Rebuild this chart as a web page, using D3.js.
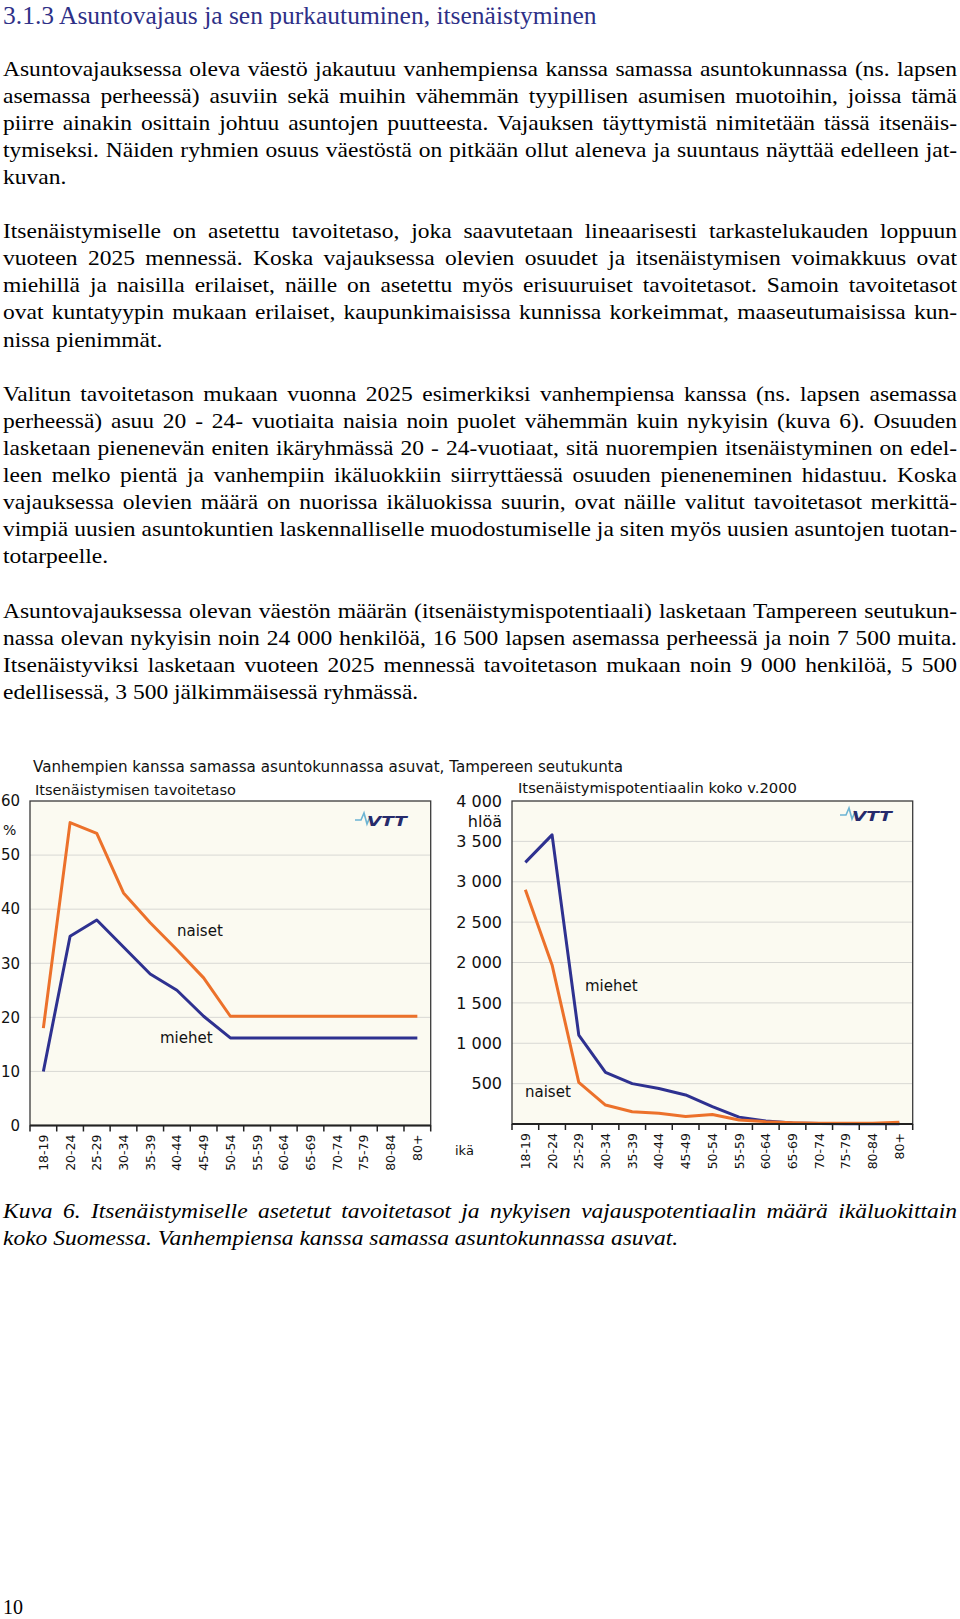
<!DOCTYPE html>
<html>
<head>
<meta charset="utf-8">
<script src="https://cdn.jsdelivr.net/npm/d3@7"></script>
<style>
  html, body { margin: 0; padding: 0; background: #fff; }
  svg { display: block; }
</style>
</head>
<body>
<script>
// ---------------- DATA ----------------
const ages = ["18-19","20-24","25-29","30-34","35-39","40-44","45-49","50-54","55-59","60-64","65-69","70-74","75-79","80-84","80+"];

// Left chart: itsenäistymisen tavoitetaso (%)
const targetWomen = [18, 56, 54, 43, 37.5, 32.5, 27.3, 20.2, 20.2, 20.2, 20.2, 20.2, 20.2, 20.2, 20.2];
const targetMen   = [10, 35, 38, 33, 28, 25, 20.2, 16.2, 16.2, 16.2, 16.2, 16.2, 16.2, 16.2, 16.2];
const leftTicks = [0, 10, 20, 30, 40, 50, 60];
const leftTickLabels = ["0", "10", "20", "30", "40", "50", "60"];

// Right chart: itsenäistymispotentiaalin koko v.2000 (hlöä)
const potentialMen   = [3240, 3580, 1100, 640, 500, 440, 360, 215, 85, 38, 12, 5, 4, 4, 4];
const potentialWomen = [2900, 1970, 515, 235, 152, 132, 92, 118, 50, 28, 15, 8, 8, 8, 22];
const rightTicks = [500, 1000, 1500, 2000, 2500, 3000, 3500, 4000];
const rightTickLabels = ["500", "1 000", "1 500", "2 000", "2 500", "3 000", "3 500", "4 000"];

// Texts
const heading = "3.1.3 Asuntovajaus ja sen purkautuminen, itsenäistyminen";
const paragraphs = [
  ["Asuntovajauksessa oleva väestö jakautuu vanhempiensa kanssa samassa asuntokunnassa (ns. lapsen",
   "asemassa perheessä) asuviin sekä muihin vähemmän tyypillisen asumisen muotoihin, joissa tämä",
   "piirre ainakin osittain johtuu asuntojen puutteesta. Vajauksen täyttymistä nimitetään tässä itsenäis-",
   "tymiseksi. Näiden ryhmien osuus väestöstä on pitkään ollut aleneva ja suuntaus näyttää edelleen jat-",
   "kuvan."],
  ["Itsenäistymiselle on asetettu tavoitetaso, joka saavutetaan lineaarisesti tarkastelukauden loppuun",
   "vuoteen 2025 mennessä. Koska vajauksessa olevien osuudet ja itsenäistymisen voimakkuus ovat",
   "miehillä ja naisilla erilaiset, näille on asetettu myös erisuuruiset tavoitetasot. Samoin tavoitetasot",
   "ovat kuntatyypin mukaan erilaiset, kaupunkimaisissa kunnissa korkeimmat, maaseutumaisissa kun-",
   "nissa pienimmät."],
  ["Valitun tavoitetason mukaan vuonna 2025 esimerkiksi vanhempiensa kanssa (ns. lapsen asemassa",
   "perheessä) asuu 20 - 24- vuotiaita naisia noin puolet vähemmän kuin nykyisin (kuva 6). Osuuden",
   "lasketaan pienenevän eniten ikäryhmässä 20 - 24-vuotiaat, sitä nuorempien itsenäistyminen on edel-",
   "leen melko pientä ja vanhempiin ikäluokkiin siirryttäessä osuuden pieneneminen hidastuu. Koska",
   "vajauksessa olevien määrä on nuorissa ikäluokissa suurin, ovat näille valitut tavoitetasot merkittä-",
   "vimpiä uusien asuntokuntien laskennalliselle muodostumiselle ja siten myös uusien asuntojen tuotan-",
   "totarpeelle."],
  ["Asuntovajauksessa olevan väestön määrän (itsenäistymispotentiaali) lasketaan Tampereen seutukun-",
   "nassa olevan nykyisin noin 24 000 henkilöä, 16 500 lapsen asemassa perheessä ja noin 7 500 muita.",
   "Itsenäistyviksi lasketaan vuoteen 2025 mennessä tavoitetason mukaan noin 9 000 henkilöä, 5 500",
   "edellisessä, 3 500 jälkimmäisessä ryhmässä."]
];
const captionLines = [
  "Kuva 6. Itsenäistymiselle asetetut tavoitetasot ja nykyisen vajauspotentiaalin määrä ikäluokittain",
  "koko Suomessa. Vanhempiensa kanssa samassa asuntokunnassa asuvat."
];
const chartTitle = "Vanhempien kanssa samassa asuntokunnassa asuvat, Tampereen seutukunta";
const leftSubtitle = "Itsenäistymisen tavoitetaso";
const rightSubtitle = "Itsenäistymispotentiaalin koko v.2000";
const pageNumber = "10";

// ---------------- LAYOUT ----------------
const W = 960, H = 1619;
const svg = d3.select("body").append("svg").attr("width", W).attr("height", H);

const SERIF = "'Liberation Serif','Times New Roman',serif";
const SANS = "'DejaVu Sans',Verdana,sans-serif";
const textLeft = 3, textRight = 957;
const bodyFs = 21;

// Heading
svg.append("text").attr("x", 3).attr("y", 23.5)
  .attr("font-family", SERIF).attr("font-size", 25.5).attr("fill", "#2e3087")
  .text(heading);

// measure helper
function measure(str, fs, style) {
  const t = svg.append("text").attr("font-family", SERIF).attr("font-size", fs)
    .attr("font-style", style || "normal").text(str);
  const w = t.node().getComputedTextLength();
  t.remove();
  return w;
}

// horizontal scale so the tightest justified line has normal spacing
let sx = 10;
paragraphs.forEach(p => p.slice(0, -1).forEach(l => {
  sx = Math.min(sx, (textRight - textLeft) / measure(l, bodyFs));
}));
sx = Math.max(0.9, Math.min(1.2, sx));

function drawLine(str, y, justify, style) {
  const t = svg.append("text")
    .attr("transform", `translate(${textLeft},${y}) scale(${sx},1)`)
    .attr("font-family", SERIF).attr("font-size", bodyFs)
    .attr("font-style", style || "normal").attr("fill", "#000")
    .text(str);
  if (justify) {
    const w = t.node().getComputedTextLength();
    const n = (str.match(/ /g) || []).length;
    if (n > 0) t.attr("word-spacing", ((textRight - textLeft) / sx - w) / n);
  }
}

const lineH = 27.1, firstBase = 75.5;
let li = 0;
paragraphs.forEach(p => {
  p.forEach((l, i) => {
    drawLine(l, firstBase + li * lineH, i < p.length - 1);
    li++;
  });
  li++;
});

// caption
drawLine(captionLines[0], 1218, true, "italic");
drawLine(captionLines[1], 1245, false, "italic");

// page number
svg.append("text").attr("x", 3).attr("y", 1614)
  .attr("font-family", SERIF).attr("font-size", 20).text(pageNumber);

// ---------------- CHARTS ----------------
const ORANGE = "#ec712b", NAVY = "#2e3190", CREAM = "#fbfaf1";

// chart title & subtitles
svg.append("text").attr("x", 33).attr("y", 772)
  .attr("font-family", SANS).attr("font-size", 15).attr("fill", "#111")
  .attr("textLength", 590).attr("lengthAdjust", "spacingAndGlyphs")
  .text(chartTitle);
svg.append("text").attr("x", 35).attr("y", 795)
  .attr("font-family", SANS).attr("font-size", 14.5).attr("fill", "#111")
  .attr("textLength", 201).attr("lengthAdjust", "spacingAndGlyphs")
  .text(leftSubtitle);
svg.append("text").attr("x", 518).attr("y", 793)
  .attr("font-family", SANS).attr("font-size", 14.5).attr("fill", "#111")
  .attr("textLength", 279).attr("lengthAdjust", "spacingAndGlyphs")
  .text(rightSubtitle);

function drawLogo(x, y) {
  const g = svg.append("g").attr("transform", `translate(${x},${y})`);
  g.append("path")
    .attr("d", "M0,9 L6,9 L9,2 L12,13 L15,6 L17,8")
    .attr("fill", "none").attr("stroke", "#6cb4d3").attr("stroke-width", 1.6);
  g.append("text").attr("x", 12).attr("y", 15)
    .attr("font-family", SANS).attr("font-size", 14).attr("font-weight", "bold")
    .attr("font-style", "italic").attr("fill", "#262a6b")
    .attr("textLength", 40).attr("lengthAdjust", "spacingAndGlyphs")
    .text("VTT");
}

function drawChart(cfg) {
  const g = svg.append("g");
  const x = d3.scaleBand().domain(ages).range([cfg.x0, cfg.x1]);
  const y = d3.scaleLinear().domain([0, cfg.max]).range([cfg.yb, cfg.yt]);

  g.append("rect").attr("x", cfg.x0).attr("y", cfg.yt)
    .attr("width", cfg.x1 - cfg.x0).attr("height", cfg.yb - cfg.yt)
    .attr("fill", CREAM);

  // gridlines
  g.selectAll("line.grid").data(cfg.grid).join("line")
    .attr("x1", cfg.x0).attr("x2", cfg.x1)
    .attr("y1", d => y(d)).attr("y2", d => y(d))
    .attr("stroke", "#d8d8d4").attr("stroke-width", 1);

  // lines
  const line = d3.line().x((d, i) => x(ages[i]) + x.bandwidth() / 2).y(d => y(d));
  cfg.series.forEach(s => {
    g.append("path").attr("d", line(s.values))
      .attr("fill", "none").attr("stroke", s.color)
      .attr("stroke-width", 3).attr("stroke-linejoin", "round");
  });

  // border
  g.append("rect").attr("x", cfg.x0).attr("y", cfg.yt)
    .attr("width", cfg.x1 - cfg.x0).attr("height", cfg.yb - cfg.yt)
    .attr("fill", "none").attr("stroke", "#3a3a3a").attr("stroke-width", 1.3);

  // x boundary ticks
  const bounds = ages.map(a => x(a)).concat([cfg.x1]);
  g.selectAll("line.xt").data(bounds).join("line")
    .attr("x1", d => d).attr("x2", d => d)
    .attr("y1", cfg.yb).attr("y2", cfg.yb + 6)
    .attr("stroke", "#222").attr("stroke-width", 1.5);
  g.append("line").attr("x1", cfg.x0).attr("x2", cfg.x1)
    .attr("y1", cfg.yb).attr("y2", cfg.yb)
    .attr("stroke", "#222").attr("stroke-width", 2);

  // x labels (rotated)
  const xa = g.append("g").attr("transform", `translate(0,${cfg.yb})`)
    .call(d3.axisBottom(x).tickSize(0).tickPadding(0));
  xa.select(".domain").remove();
  xa.selectAll("text")
    .attr("font-family", SANS).attr("font-size", 12.5).attr("fill", "#111")
    .attr("transform", "rotate(-90)")
    .attr("x", -9).attr("y", 0).attr("dy", "0.36em")
    .attr("text-anchor", "end");

  // y labels
  const ya = g.append("g").attr("transform", `translate(${cfg.x0},0)`)
    .call(d3.axisLeft(y).tickValues(cfg.ticks).tickSize(0).tickPadding(cfg.pad)
      .tickFormat((d, i) => cfg.tickLabels[i]));
  ya.select(".domain").remove();
  ya.selectAll("text").attr("font-family", SANS).attr("font-size", cfg.yFs).attr("fill", "#111");

  // series labels
  cfg.labels.forEach(l => {
    g.append("text").attr("x", l.x).attr("y", l.y)
      .attr("font-family", SANS).attr("font-size", 15).attr("fill", "#111").text(l.text);
  });
}

drawChart({
  x0: 30, x1: 430.7, yt: 801, yb: 1125.5, max: 60,
  grid: [10, 20, 30, 40, 50],
  ticks: leftTicks, tickLabels: leftTickLabels, pad: 10, yFs: 15,
  series: [{values: targetMen, color: NAVY}, {values: targetWomen, color: ORANGE}],
  labels: [{text: "naiset", x: 177, y: 936}, {text: "miehet", x: 160, y: 1043}]
});
drawChart({
  x0: 512, x1: 912.7, yt: 801, yb: 1124, max: 4000,
  grid: [500, 1000, 1500, 2000, 2500, 3000, 3500],
  ticks: rightTicks, tickLabels: rightTickLabels, pad: 10, yFs: 16,
  series: [{values: potentialMen, color: NAVY}, {values: potentialWomen, color: ORANGE}],
  labels: [{text: "miehet", x: 585, y: 991}, {text: "naiset", x: 525, y: 1097}]
});

// axis unit labels
svg.append("text").attr("x", 3).attr("y", 835)
  .attr("font-family", SANS).attr("font-size", 14).attr("fill", "#111").text("%");
svg.append("text").attr("x", 502).attr("y", 827).attr("text-anchor", "end")
  .attr("font-family", SANS).attr("font-size", 16).attr("fill", "#111").text("hlöä");
svg.append("text").attr("x", 455).attr("y", 1155)
  .attr("font-family", SANS).attr("font-size", 13).attr("fill", "#111").text("ikä");

drawLogo(355, 811);
drawLogo(840, 806);
</script>
</body>
</html>
